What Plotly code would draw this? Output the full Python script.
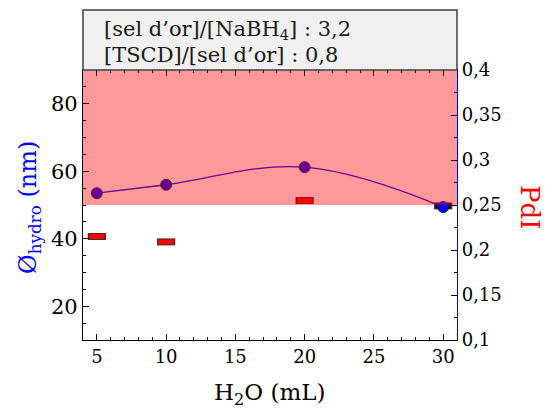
import plotly.graph_objects as go

# Volume d'eau (mL)
h2o_ml = [5, 10, 20, 30]
# Diamètre hydrodynamique (nm)
d_hydro = [53.5, 56.0, 61.2, 49.4]
# Indice de polydispersité
pdi = [0.215, 0.209, 0.255, 0.249]
pdi_colors = ["#ff0000", "#ff0000", "#ff0000", "#101010"]

# Zone rouge (en nm, axe de gauche)
zone_low, zone_high = 50, 90

header_lines = [
    "[sel d’or]/[NaBH<sub>4</sub>] : 3,2",
    "[TSCD]/[sel d’or] : 0,8",
]

SERIF = "DejaVu Serif"
x_range = [4, 31]
PLOT_W, PLOT_H = 374, 270

fig = go.Figure()

# PdI: rectangles (contour foncé puis remplissage), axe de droite
fig.add_trace(go.Scatter(
    x=h2o_ml, y=pdi, mode="markers", yaxis="y",
    marker=dict(symbol="line-ew", size=13,
                line=dict(color="#4a2828", width=7)),
    hoverinfo="skip", showlegend=False,
))
fig.add_trace(go.Scatter(
    x=h2o_ml, y=pdi, mode="markers", yaxis="y",
    marker=dict(symbol="line-ew", size=11,
                line=dict(color=pdi_colors, width=5)),
    hoverinfo="skip", showlegend=False,
))

# Ø hydro: spline + cercles bleus, axe de gauche
fig.add_trace(go.Scatter(
    x=h2o_ml, y=d_hydro, mode="lines+markers", yaxis="y2",
    line=dict(color="#0000ff", width=1.3, shape="spline", smoothing=1.1),
    marker=dict(symbol="circle", size=11, color="#0000ff",
                line=dict(color="#1a1a40", width=1)),
    hoverinfo="skip", showlegend=False,
))

# Bande rouge translucide
fig.add_trace(go.Scatter(
    x=[x_range[0], x_range[1], x_range[1], x_range[0], x_range[0]],
    y=[zone_low, zone_low, zone_high, zone_high, zone_low],
    yaxis="y2", mode="lines", fill="toself",
    fillcolor="rgba(255,0,0,0.40)", line=dict(width=0),
    hoverinfo="skip", showlegend=False,
))

fig.update_layout(
    width=547, height=409,
    margin=dict(l=83, r=90, t=70, b=69),
    paper_bgcolor="white", plot_bgcolor="white",
    font=dict(family=SERIF, color="black"),
    separators=", ",
    xaxis=dict(
        range=x_range, dtick=5, tick0=0,
        ticks="inside", ticklen=6, tickwidth=1, tickcolor="black",
        minor=dict(ticks="inside", dtick=1, ticklen=3, tickcolor="black"),
        showline=True, linecolor="black", linewidth=1.2, mirror="ticks",
        showgrid=False, zeroline=False,
        tickfont=dict(family=SERIF, size=18, color="black"),
    ),
    yaxis=dict(
        range=[0.1, 0.4], dtick=0.05, tick0=0,
        side="right",
        ticks="inside", ticklen=6, tickwidth=1, tickcolor="black",
        minor=dict(ticks="inside", dtick=0.025, ticklen=3, tickcolor="black"),
        showline=True, linecolor="#0000ff", linewidth=1.2,
        showgrid=False, zeroline=False,
        tickfont=dict(family=SERIF, size=18, color="black"),
    ),
    yaxis2=dict(
        range=[10, 90], dtick=20, tick0=0,
        overlaying="y", side="left",
        ticks="inside", ticklen=6, tickwidth=1, tickcolor="black",
        minor=dict(ticks="inside", dtick=5, ticklen=3, tickcolor="black"),
        showline=True, linecolor="black", linewidth=1.2,
        showgrid=False, zeroline=False,
        tickfont=dict(family=SERIF, size=21, color="black"),
    ),
    shapes=[dict(
        type="rect", xref="paper", yref="paper",
        x0=0, x1=1, y0=1, y1=1 + 60 / PLOT_H,
        fillcolor="#f0f0f0", line=dict(color="#404040", width=1.5),
        layer="above",
    )],
    annotations=[
        dict(text=header_lines[0], xref="paper", yref="paper",
             x=19 / PLOT_W, y=1 + (70 - 30) / PLOT_H,
             xanchor="left", yanchor="middle", showarrow=False,
             font=dict(family=SERIF, size=21, color="#1a1a1a")),
        dict(text=header_lines[1], xref="paper", yref="paper",
             x=19 / PLOT_W, y=1 + (70 - 55) / PLOT_H,
             xanchor="left", yanchor="middle", showarrow=False,
             font=dict(family=SERIF, size=21, color="#1a1a1a")),
        dict(text="H<sub>2</sub>O (mL)", xref="paper", yref="paper",
             x=0.5, y=-(394 - 340) / PLOT_H,
             xanchor="center", yanchor="middle", showarrow=False,
             font=dict(family=SERIF, size=23, color="black")),
        dict(text="Ø<sub>hydro</sub> (nm)", xref="paper", yref="paper",
             x=-(83 - 29) / PLOT_W, y=1 - (208 - 70) / PLOT_H,
             xanchor="center", yanchor="middle",
             textangle=-90, showarrow=False,
             font=dict(family=SERIF, size=24, color="#0000ff")),
        dict(text="PdI", xref="paper", yref="paper",
             x=1 + (530 - 457) / PLOT_W, y=1 - (207 - 70) / PLOT_H,
             xanchor="center", yanchor="middle",
             textangle=90, showarrow=False,
             font=dict(family=SERIF, size=26, color="#ff0000")),
    ],
)

fig.write_html("out.html")
